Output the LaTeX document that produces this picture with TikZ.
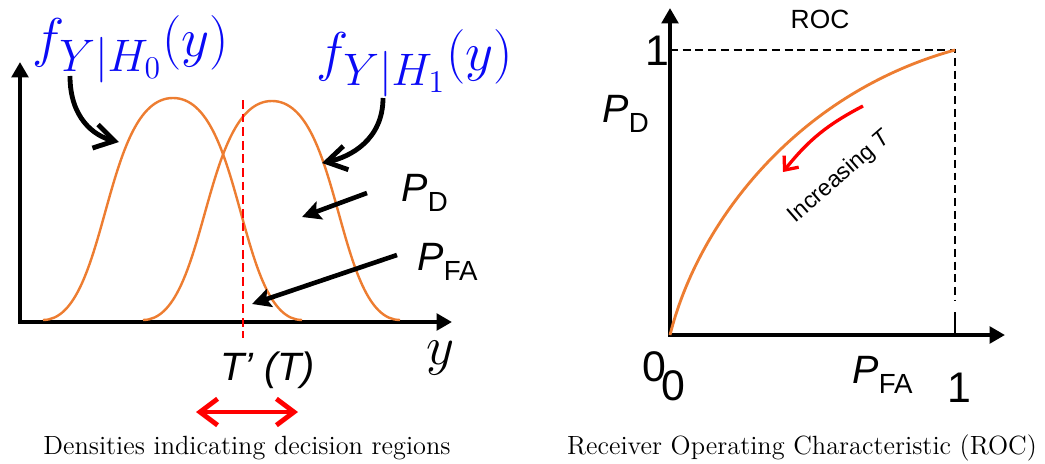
\documentclass[tikz,border=0pt]{standalone}
\usepackage{graphicx}
\usepackage[no-math]{fontspec}
\newfontfamily\arialfont{Liberation Sans}
\usetikzlibrary{arrows.meta}

\definecolor{densorange}{RGB}{237,125,49}
\definecolor{labelblue}{RGB}{10,10,245}

\newcommand{\Psub}[1]{{\itshape P}\raisebox{-0.45ex}{\scalebox{0.7}{\upshape #1}}}

\begin{document}
\begin{tikzpicture}[
    x = 0.016cm, y = -0.016cm,
    axis/.style        = {line width=1.9pt, {Triangle[length=7pt,width=7.5pt]}-{Triangle[length=7pt,width=7.5pt]}},
    densc/.style       = {densorange, line width=1.1pt},
    curvedarr/.style   = {line width=2.2pt, -{Straight Barb[length=9pt,width=11pt]}},
    straightarr/.style = {line width=2.1pt, -{Stealth[length=8.5pt,width=8.5pt,inset=1.5pt]}},
    redarr/.style      = {red, line width=2.2pt, {Straight Barb[length=8pt,width=12pt]}-{Straight Barb[length=8pt,width=12pt]}},
    threshold/.style   = {red, line width=0.9pt, dash pattern=on 4pt off 2.2pt},
    guide/.style       = {line width=0.7pt, dash pattern=on 3.6pt off 2.2pt},
    mathlbl/.style     = {inner sep=0pt, text=labelblue, font=\fontsize{30}{34}\selectfont},
    sanslbl/.style     = {inner sep=0pt, font=\arialfont\fontsize{18}{21}\selectfont},
    digit/.style       = {inner sep=0pt, font=\arialfont\fontsize{19.5}{22}\selectfont},
    caption/.style     = {inner sep=0pt, font=\fontsize{12}{14}\selectfont}
    ]
      \useasboundingbox (0,0) rectangle (1045,463);

      % densities ------------------------------------------------
      \coordinate (O1)    at (20,322);
      \coordinate (ytop1) at (20,62);
      \coordinate (xtip1) at (452,322);
      \draw[axis] (ytop1) -- (O1) -- (xtip1);

      \draw[densc] (43,320) .. controls (108.5,320) and (102.3,98) .. (173,98)
                            .. controls (243.7,98) and (237.5,320) .. (302,320);
      \draw[densc] (143,320) .. controls (208,320) and (201.8,101) .. (272,101)
                             .. controls (341.6,101) and (335.5,320) .. (400,320);
      \draw[threshold] (243,100) -- (243,338);

      \node[mathlbl] (fH0) at (131,49) {$f_{Y|H_0}(y)$};
      \node[mathlbl] (fH1) at (415,63) {$f_{Y|H_1}(y)$};
      \node[sanslbl, anchor=west] (PD1)  at (401,193) {\Psub{D}};
      \node[sanslbl, anchor=west] (PFA1) at (417,262) {\Psub{FA}};
      \node[inner sep=0pt, font=\fontsize{25}{28}\selectfont] (ylab) at (441,358) {$y$};
      \node[sanslbl] (thr) at (268,370) {\itshape T’ (T)};

      % pointers -------------------------------------------------
      \coordinate (a0s)  at (70,76);
      \coordinate (a0e)  at (119,142);
      \coordinate (a1s)  at (383,98);
      \coordinate (a1e)  at (322,163);
      \coordinate (pd1s) at (367,193);
      \coordinate (pd1e) at (302,217);
      \coordinate (pf1s) at (397,255);
      \coordinate (pf1e) at (252,304);
      \draw[curvedarr] (a0s) .. controls +(0,42) and +(-25,-6) .. (a0e);
      \draw[curvedarr] (a1s) .. controls +(0,42) and +(28,-6) .. (a1e);
      \draw[straightarr] (pd1s) -- (pd1e);
      \draw[straightarr] (pf1s) -- (pf1e);

      \coordinate (tl) at (196,412);
      \coordinate (tr) at (298,412);
      \draw[redarr] (tl) -- (tr);

      \node[caption] (capL) at (247,448) {Densities indicating decision regions};

      % ROC ------------------------------------------------------
      \coordinate (O2)    at (670,335);
      \coordinate (ytop2) at (670,8);
      \coordinate (xtip2) at (1005,335);
      \coordinate (one2)  at (955,50);
      \draw[axis] (ytop2) -- (O2) -- (xtip2);
      \draw[guide] (670,50) -- (one2) -- (955,300);
      \draw[line width=0.7pt] (955,312) -- (955,335);
      \draw[densc, line width=1.3pt] (O2) .. controls (698.5,221) and (798,93) .. (one2);

      \coordinate (rs) at (863,106);
      \coordinate (re) at (783,172);
      \draw[red, line width=1.5pt, -{Straight Barb[length=5pt,width=8.5pt]}] (rs) to[bend right=12] (re);

      \node[inner sep=0pt, font=\arialfont\fontsize{12}{14}\selectfont] (roc) at (820,19) {ROC};
      \node[digit] (oneY)  at (657,51)  {1};
      \node[sanslbl, anchor=west] (PD2)  at (602,114) {\Psub{D}};
      \node[digit] (zeroA) at (654,367) {0};
      \node[digit] (zeroB) at (673,386) {0};
      \node[sanslbl, anchor=west] (PFA2) at (852,375) {\Psub{FA}};
      \node[digit] (oneX)  at (959,388) {1};
      \node[inner sep=0pt, rotate=41, font=\arialfont\fontsize{10.5}{12}\selectfont] (inc) at (840,177) {Increasing \textit{T}};

      \node[caption] (capR) at (802,448) {Receiver Operating Characteristic (ROC)};
\end{tikzpicture}
\end{document}
